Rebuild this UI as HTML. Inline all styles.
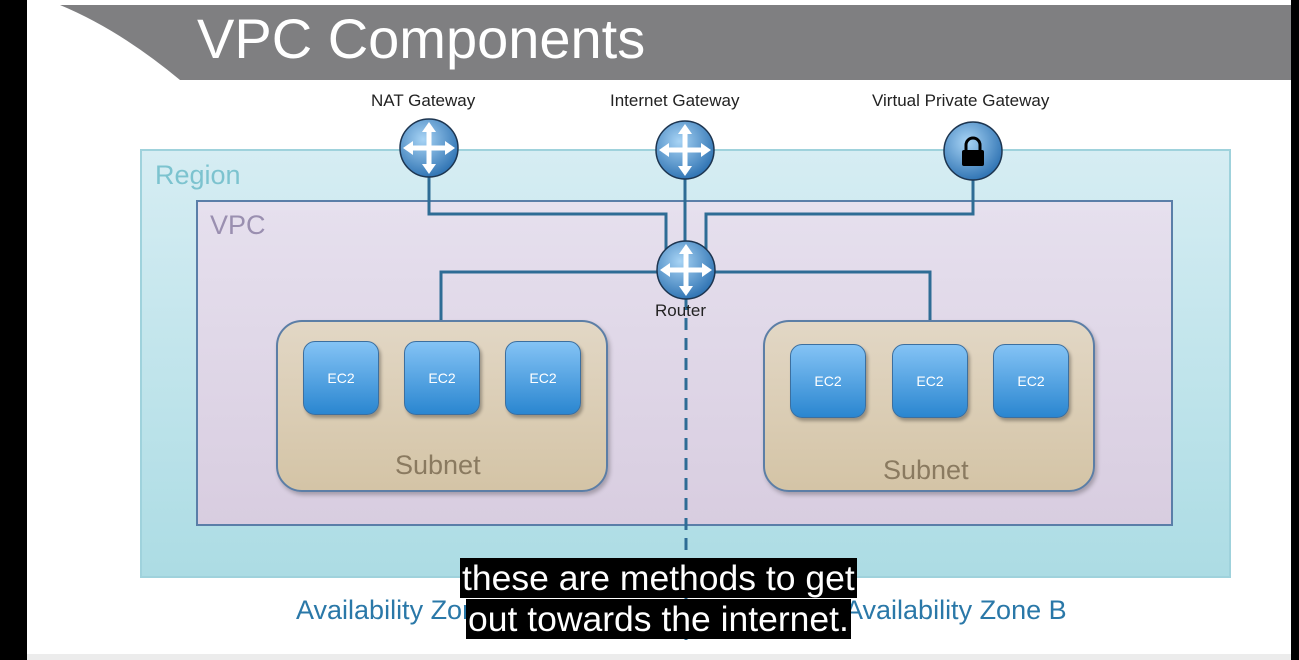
<!DOCTYPE html>
<html><head><style>
body{margin:0;width:1299px;height:660px;overflow:hidden;background:#000;font-family:"Liberation Sans",sans-serif;}
.page{position:absolute;left:27px;top:0;width:1264px;height:660px;background:#fff;}
.t{position:absolute;font-family:"Liberation Sans",sans-serif;white-space:nowrap;}
.ec2{position:absolute;width:74px;height:72px;border-radius:12px;background:linear-gradient(#84c3f5,#2a86d0);border:1px solid #3c6f9f;box-shadow:2px 3px 3px rgba(0,0,0,.3);color:#fff;font-size:14px;text-align:center;line-height:72px;}
.sub{position:absolute;background:linear-gradient(#e2d7c5,#d4c4a6);border:2px solid #5c7ea6;border-radius:26px;box-shadow:2px 3px 4px rgba(0,0,0,.25);}
.cap{position:absolute;background:#000;color:#fff;font-size:35.5px;line-height:40px;padding:0 2px;}
</style></head><body>
<div class="page"></div>
<svg style="position:absolute;left:0;top:0" width="1299" height="660">
<path d="M60 5 L1291 5 L1291 80 L180 80 Q120 30 60 5 Z" fill="#7f7f81"/>
<rect x="27" y="654" width="1264" height="6" fill="#ececec"/>
<defs>
<linearGradient id="rg" x1="0" y1="0" x2="0" y2="1"><stop offset="0" stop-color="#d6edf3"/><stop offset="1" stop-color="#acdce4"/></linearGradient>
<linearGradient id="vg" x1="0" y1="0" x2="0" y2="1"><stop offset="0" stop-color="#e6e0ee"/><stop offset="1" stop-color="#d8cde0"/></linearGradient>
<radialGradient id="ig" cx="0.4" cy="0.35" r="0.7"><stop offset="0" stop-color="#a8d4f5"/><stop offset="1" stop-color="#2a6fb0"/></radialGradient>
<g id="ar" fill="#fff"><rect x="-2.5" y="-18" width="5" height="36"/><rect x="-18" y="-2.5" width="36" height="5"/>
<polygon points="0,-26 -7,-16 7,-16"/><polygon points="0,26 -7,16 7,16"/><polygon points="-26,0 -16,-7 -16,7"/><polygon points="26,0 16,-7 16,7"/></g>
</defs>
<rect x="141" y="150" width="1089" height="427" fill="url(#rg)" stroke="#9fd2dc" stroke-width="2"/>
<rect x="197" y="201" width="975" height="324" fill="url(#vg)" stroke="#5a7ea8" stroke-width="2"/>
<g stroke="#2e6c95" stroke-width="3" fill="none">
<polyline points="429,150 429,214 666,214 666,270"/>
<line x1="685" y1="150" x2="685" y2="270"/>
<polyline points="973,151 973,214 706,214 706,270"/>
<polyline points="441,320 441,272 930,272 930,320"/>
</g>
<line x1="686" y1="298" x2="686" y2="640" stroke="#2e6c95" stroke-width="3" stroke-dasharray="12,8"/>
</svg>
<div class="t" style="left:197px;top:6px;font-size:56px;color:#fff;">VPC Components</div>
<div class="t" style="left:371px;top:91px;font-size:17px;color:#222;">NAT Gateway</div>
<div class="t" style="left:610px;top:91px;font-size:17px;color:#222;">Internet Gateway</div>
<div class="t" style="left:872px;top:91px;font-size:17px;color:#222;">Virtual Private Gateway</div>
<div class="t" style="left:155px;top:160px;font-size:27px;color:#7cc3cf;">Region</div>
<div class="t" style="left:210px;top:210px;font-size:27px;color:#9a8fb0;">VPC</div>
<div class="sub" style="left:276px;top:320px;width:328px;height:168px;"></div>
<div class="sub" style="left:763px;top:320px;width:328px;height:168px;"></div>
<div class="ec2" style="left:303px;top:341px;">EC2</div>
<div class="ec2" style="left:404px;top:341px;">EC2</div>
<div class="ec2" style="left:505px;top:341px;">EC2</div>
<div class="ec2" style="left:790px;top:344px;">EC2</div>
<div class="ec2" style="left:892px;top:344px;">EC2</div>
<div class="ec2" style="left:993px;top:344px;">EC2</div>
<div class="t" style="left:395px;top:450px;font-size:27px;color:#8a7a60;">Subnet</div>
<div class="t" style="left:883px;top:455px;font-size:27px;color:#8a7a60;">Subnet</div>
<div class="t" style="left:655px;top:301px;font-size:17px;color:#222;">Router</div>
<div class="t" style="left:296px;top:595px;font-size:27px;color:#2a78a8;">Availability Zone A</div>
<div class="t" style="left:845px;top:595px;font-size:27px;color:#2a78a8;">Availability Zone B</div>
<svg style="position:absolute;left:0;top:0" width="1299" height="660">
<g stroke="#1d3550" stroke-width="1.5" fill="url(#ig)">
<circle cx="429" cy="148" r="29"/><circle cx="685" cy="150" r="29"/><circle cx="973" cy="151" r="29"/><circle cx="686" cy="270" r="29"/>
</g>
<use href="#ar" transform="translate(429,148)"/>
<use href="#ar" transform="translate(685,150)"/>
<use href="#ar" transform="translate(686,270)"/>
<rect x="962" y="150" width="22" height="16" rx="2" fill="#000"/>
<path d="M966 150 v-5 a7 7 0 0 1 14 0 v5" fill="none" stroke="#000" stroke-width="3"/>
</svg>
<div class="cap" style="left:460px;top:558px;">these are methods to get</div>
<div class="cap" style="left:466px;top:599px;">out towards the internet.</div>
</body></html>
